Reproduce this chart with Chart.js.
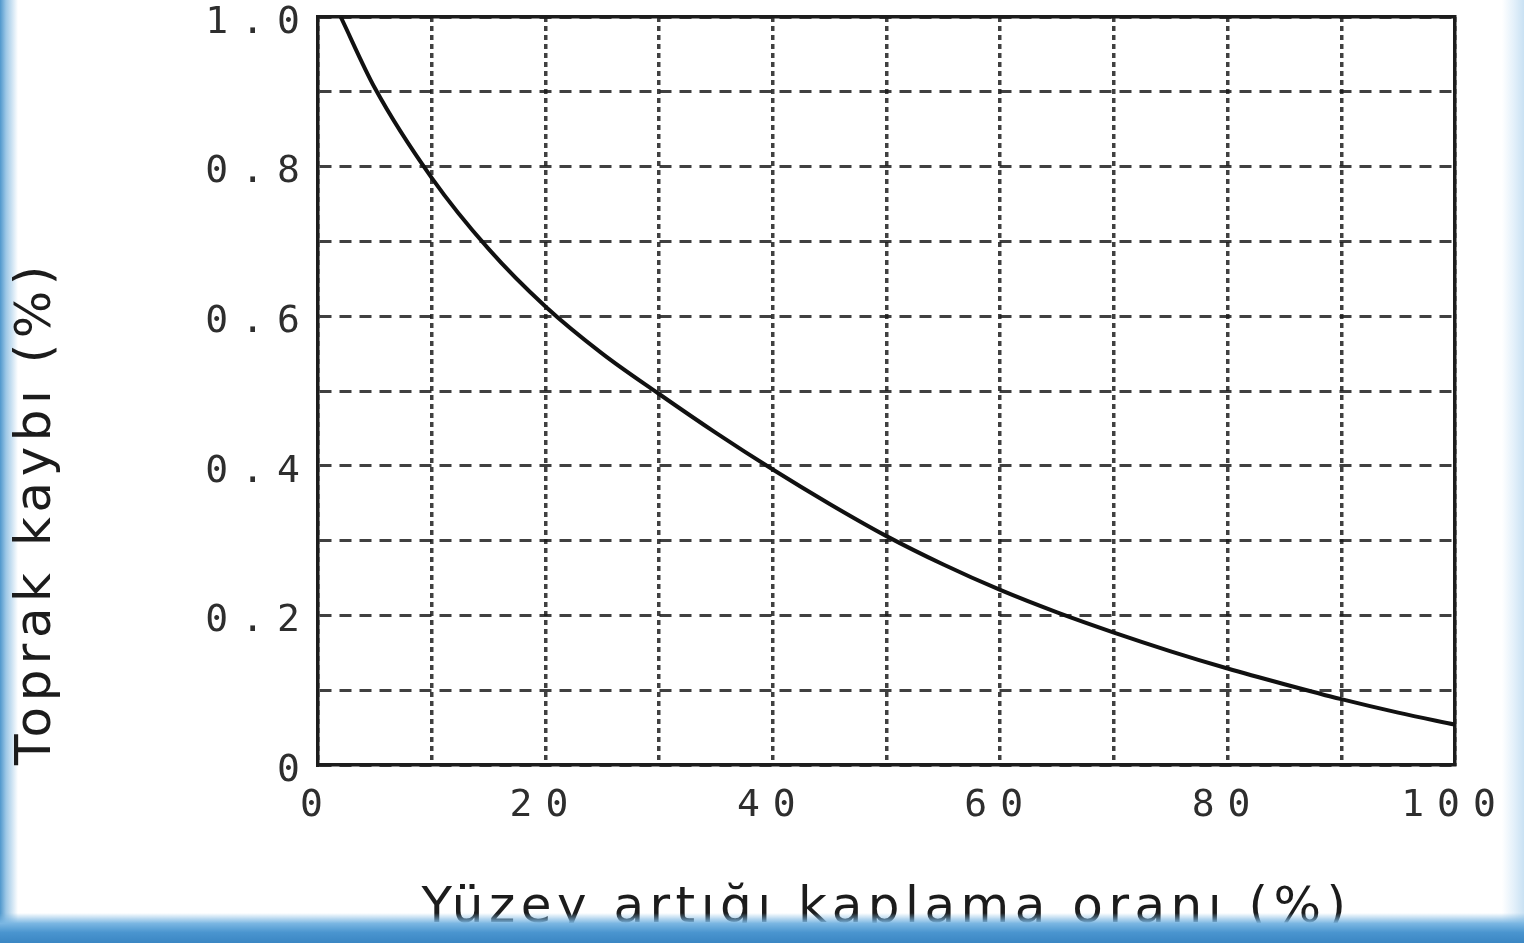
<!DOCTYPE html>
<html lang="tr">
<head>
<meta charset="utf-8">
<title>Toprak kaybı - Yüzey artığı kaplama oranı</title>
<script src="https://cdn.jsdelivr.net/npm/chart.js@4/dist/chart.umd.min.js"></script>
<style>
  html, body { margin: 0; padding: 0; overflow: hidden; background: #fff; }
  #wrap {
    position: relative;
    width: 1524px;
    height: 943px;
    background:
      linear-gradient(to right, #4f97cc 0px, #9cc7e6 6px, rgba(255,255,255,0) 18px),
      linear-gradient(to left, #c9e1f3 0px, #e3f0fa 10px, rgba(255,255,255,0) 22px),
      #fff;
  }
  #chart { position: absolute; left: 0; top: 0; }
  #band {
    position: absolute;
    left: 0;
    bottom: 0;
    width: 1524px;
    height: 30px;
    pointer-events: none;
    background: linear-gradient(to bottom, rgba(120,180,225,0) 0%, #7ab6e2 35%, #4a95cf 65%, #3a86c3 100%);
  }
</style>
</head>
<body>
<div id="wrap">
  <canvas id="chart" width="1524" height="943"></canvas>
  <div id="band"></div>
</div>
<script>
// values
const coverage = [2, 5, 10, 15, 20, 25, 30, 35, 40, 45, 50, 55, 60, 65, 70, 75, 80, 85, 90, 95, 100];
const soilLoss = [1.0, 0.905, 0.785, 0.69, 0.613, 0.55, 0.496, 0.444, 0.395, 0.349, 0.306, 0.268, 0.234, 0.204, 0.177, 0.152, 0.129, 0.108, 0.088, 0.07, 0.054];

const xTickLabels = ["0", "", "20", "", "40", "", "60", "", "80", "", "100"];
const yTickLabels = ["0", "", "0.2", "", "0.4", "", "0.6", "", "0.8", "", "1.0"];

const xTitle = "Yüzey artığı kaplama oranı (%)";
const yTitle = "Toprak kaybı (%)";

document.addEventListener("DOMContentLoaded", () => {
  const ink = "#1c1c1c";
  const gridInk = "rgba(30, 30, 30, 0.85)";

  // the scan has wide lettering: titles a bit spread, digits very spread.
  // tick labels sit on z=1 so they are drawn after the datasets.
  const spreadText = {
    id: "spreadText",
    beforeDraw(chart) {
      chart.ctx.letterSpacing = "5.5px";
    },
    afterDatasetsDraw(chart) {
      chart.ctx.letterSpacing = "13px";
    },
  };

  const frame = { display: true, color: ink, width: 3.5 };
  const tickFont = { family: "DejaVu Sans Mono", size: 38 };
  const titleFont = { family: "DejaVu Sans", size: 50 };

  const ctx = document.getElementById("chart").getContext("2d");
  new Chart(ctx, {
    type: "line",
    data: {
      datasets: [
        {
          label: yTitle,
          data: coverage.map((x, i) => ({ x: x, y: soilLoss[i] })),
          borderColor: "#111",
          borderWidth: 4,
          pointRadius: 0,
          cubicInterpolationMode: "monotone",
          fill: false,
        },
      ],
    },
    options: {
      responsive: false,
      animation: false,
      layout: { padding: { top: 17, right: 69, left: 0, bottom: 0 } },
      plugins: {
        legend: { display: false },
        tooltip: { enabled: false },
      },
      scales: {
        x: {
          type: "linear",
          position: "bottom",
          min: 0,
          max: 100,
          afterFit: (s) => {
            s.height = 178;
            s.paddingLeft = 0;
            s.paddingRight = 0;
          },
          border: { ...frame, dash: [5, 4] },
          grid: {
            color: gridInk,
            lineWidth: 3.5,
            drawTicks: false,
          },
          ticks: {
            z: 1,
            stepSize: 10,
            autoSkip: false,
            maxRotation: 0,
            padding: 18,
            color: "#2e2e2e",
            font: tickFont,
            callback: (v, i) => xTickLabels[i] ?? "",
          },
          title: {
            display: true,
            text: xTitle,
            color: ink,
            font: titleFont,
            padding: { top: 0, bottom: 4 },
          },
        },
        y: {
          type: "linear",
          position: "left",
          min: 0,
          max: 1,
          afterFit: (s) => {
            s.width = 318;
            s.paddingTop = 0;
            s.paddingBottom = 0;
          },
          border: { ...frame, dash: [12, 8] },
          grid: {
            color: gridInk,
            lineWidth: 3,
            drawTicks: false,
          },
          ticks: {
            z: 1,
            stepSize: 0.1,
            autoSkip: false,
            padding: 5,
            labelOffset: 6,
            color: "#2e2e2e",
            font: tickFont,
            callback: (v, i) => yTickLabels[i] ?? "",
          },
          title: {
            display: true,
            text: yTitle,
            align: "start",
            color: ink,
            font: titleFont,
            padding: { top: 7, bottom: 0 },
          },
        },
        // top and right edges of the box
        x2: {
          type: "linear",
          position: "top",
          min: 0,
          max: 100,
          afterFit: (s) => {
            s.height = 0;
            s.paddingLeft = 0;
            s.paddingRight = 0;
          },
          border: frame,
          grid: { display: false },
          ticks: { display: false },
        },
        y2: {
          type: "linear",
          position: "right",
          min: 0,
          max: 1,
          afterFit: (s) => {
            s.width = 0;
            s.paddingTop = 0;
            s.paddingBottom = 0;
          },
          border: frame,
          grid: { display: false },
          ticks: { display: false },
        },
      },
    },
    plugins: [spreadText],
  });
});
</script>
</body>
</html>
